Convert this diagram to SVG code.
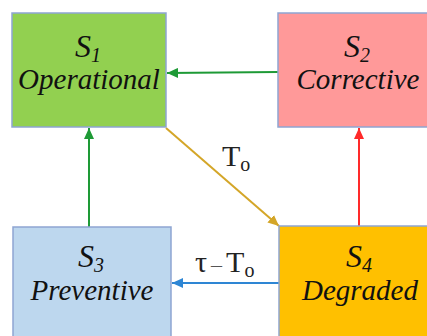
<svg xmlns="http://www.w3.org/2000/svg" width="427" height="336" viewBox="0 0 427 336">
<style>
.box{stroke:#8EA5D2;stroke-width:1.5}
.edge{fill:none;stroke-width:2}
</style>
<defs>
<marker id="ag" markerUnits="userSpaceOnUse" markerWidth="12" markerHeight="10" refX="11" refY="5" orient="auto"><path d="M0,0 L11,5 L0,10 Z" fill="#1E9A36"/></marker>
<marker id="ar" markerUnits="userSpaceOnUse" markerWidth="12" markerHeight="10" refX="11" refY="5" orient="auto"><path d="M0,0 L11,5 L0,10 Z" fill="#FF2A2A"/></marker>
<marker id="ab" markerUnits="userSpaceOnUse" markerWidth="12" markerHeight="10" refX="11" refY="5" orient="auto"><path d="M0,0 L11,5 L0,10 Z" fill="#2E86D4"/></marker>
<marker id="ay" markerUnits="userSpaceOnUse" markerWidth="12" markerHeight="10" refX="11" refY="5" orient="auto"><path d="M0,0 L11,5 L0,10 Z" fill="#D4A628"/></marker>
</defs>
<rect width="427" height="336" fill="#fff"/>
<g id="connectors">
<line class="edge" x1="278" y1="72" x2="167" y2="73" stroke="#1E9A36" marker-end="url(#ag)"/>
<line class="edge" x1="89" y1="227" x2="89" y2="128" stroke="#1E9A36" marker-end="url(#ag)"/>
<line class="edge" x1="166" y1="128" x2="279" y2="226" stroke="#D4A628" marker-end="url(#ay)"/>
<line class="edge" x1="359" y1="226" x2="359" y2="128" stroke="#FF2A2A" marker-end="url(#ar)"/>
<line class="edge" x1="279" y1="283" x2="172" y2="283" stroke="#2E86D4" marker-end="url(#ab)"/>
<text font-family="Liberation Serif" font-size="30" fill="#222" x="222" y="166">T<tspan font-size="20" dy="5">o</tspan></text>
<text font-family="Liberation Serif" font-size="30" fill="#222" x="195" y="272">τ<tspan font-size="22" fill="#555" dx="4">–</tspan><tspan dx="4">T</tspan><tspan font-size="20" dy="5">o</tspan></text>
</g>
<g id="S1">
<rect class="box" x="12" y="13" width="154" height="114" fill="#92D050"/>
<text font-family="Liberation Serif" font-style="italic" font-size="32" fill="#111" text-anchor="middle" x="88" y="57">S<tspan font-size="20" dy="5">1</tspan></text>
<text font-family="Liberation Serif" font-style="italic" font-size="29" fill="#111" text-anchor="middle" x="89" y="89">Operational</text>
</g>
<g id="S2">
<rect class="box" x="278" y="13" width="160" height="114" fill="#FF9999"/>
<text font-family="Liberation Serif" font-style="italic" font-size="32" fill="#111" text-anchor="middle" x="357" y="57">S<tspan font-size="20" dy="5">2</tspan></text>
<text font-family="Liberation Serif" font-style="italic" font-size="29" fill="#111" text-anchor="middle" x="358" y="89">Corrective</text>
</g>
<g id="S3">
<rect class="box" x="13" y="227" width="158" height="120" fill="#BDD7EE"/>
<text font-family="Liberation Serif" font-style="italic" font-size="32" fill="#111" text-anchor="middle" x="91" y="267">S<tspan font-size="20" dy="5">3</tspan></text>
<text font-family="Liberation Serif" font-style="italic" font-size="29" fill="#111" text-anchor="middle" x="92" y="300">Preventive</text>
</g>
<g id="S4">
<rect class="box" x="279" y="226" width="160" height="120" fill="#FFC000"/>
<text font-family="Liberation Serif" font-style="italic" font-size="32" fill="#111" text-anchor="middle" x="359" y="267">S<tspan font-size="20" dy="5">4</tspan></text>
<text font-family="Liberation Serif" font-style="italic" font-size="29" fill="#111" text-anchor="middle" x="360" y="300">Degraded</text>
</g>
</svg>
